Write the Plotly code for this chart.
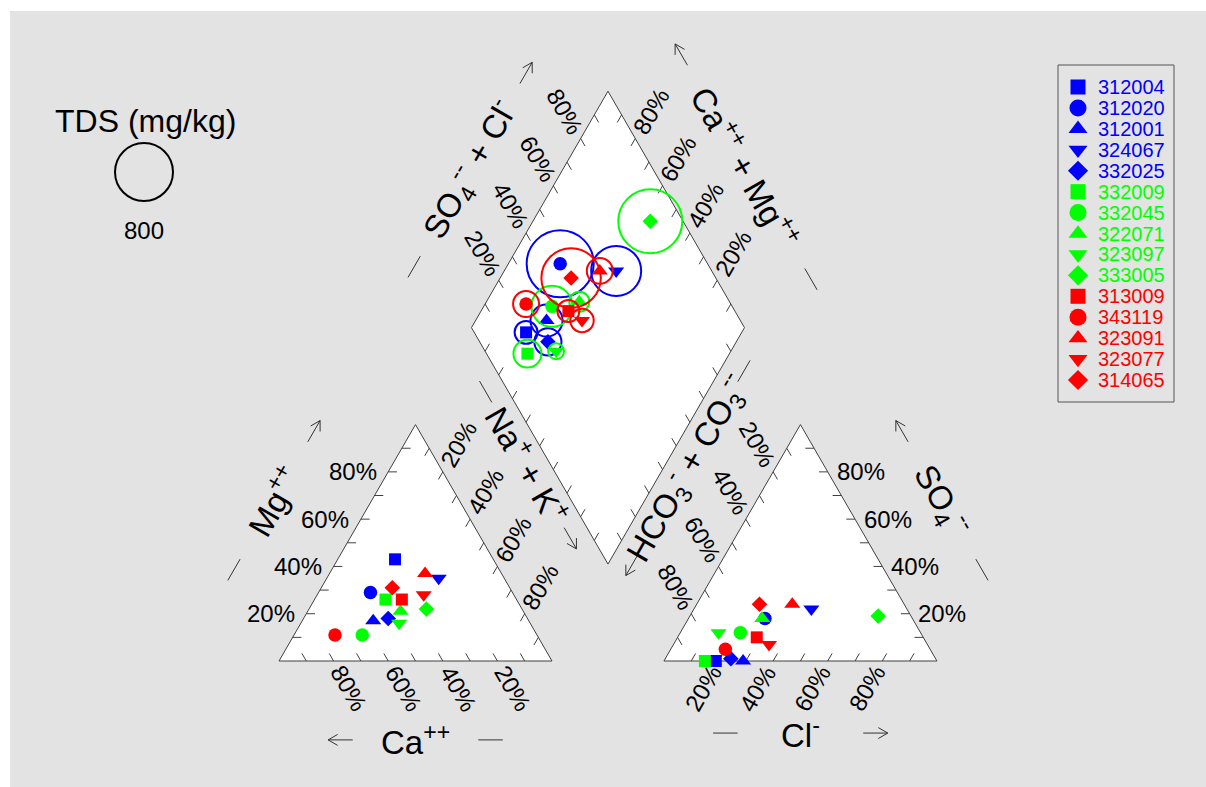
import numpy as np
import plotly.graph_objects as go

# ---------------------------------------------------------------- sample data
sample_ids = ["312004", "312020", "312001", "324067", "332025",
              "332009", "332045", "322071", "323097", "333005",
              "313009", "343119", "323091", "323077", "314065"]
sample_colors = ["#0000FF"] * 5 + ["#00FF00"] * 5 + ["#FF0000"] * 5
sample_symbols = ["square", "circle", "triangle-up", "triangle-down", "diamond"] * 3

# cations, percent of meq
ca = [36, 52, 57, 24, 51, 48, 64, 45, 48, 35, 42, 74, 28, 33, 43]
mg = [43, 29, 17, 35, 18, 26, 11, 21, 16, 22, 26, 11, 37, 28, 31]
na_k = [21, 19, 26, 41, 31, 26, 25, 34, 36, 43, 32, 15, 35, 39, 26]
# anions, percent of meq
cl = [19, 28, 29, 43, 24, 15, 22, 27, 14, 69, 29, 20, 35, 35, 23]
so4 = [0, 18, 0, 22, 1, 0, 12, 18, 12, 19, 10, 5, 24, 7, 24]
hco3 = [81, 54, 71, 35, 75, 85, 66, 55, 74, 12, 61, 75, 41, 58, 53]
# total dissolved solids, mg/kg
tds = [125, 1070, 245, 595, 175, 185, 400, 95, 60, 975, 115, 160, 160, 130, 840]
tds_ref = 800

pct_ticks = [20, 40, 60, 80]

# ---------------------------------------------------------------- geometry
FONT = "Liberation Sans, Arial, sans-serif"
W, H = 1206, 787
UNIT_PX = 273                # pixel length of one triangle side
ORIGIN_PX = (279, 661)       # pixel position of the 100 % Ca corner
S3 = np.sqrt(3) / 2
GAP = 0.41                   # spacing between the two triangles

A0, A1, A2 = np.array([0.0, 0.0]), np.array([1.0, 0.0]), np.array([0.5, S3])
B0, B1, B2 = np.array([1 + GAP, 0.0]), np.array([2 + GAP, 0.0]), np.array([1.5 + GAP, S3])
DB = np.array([1 + GAP / 2, GAP * S3])
DL = DB + np.array([-0.5, S3])
DT = DB + np.array([0.0, 2 * S3])
DR = DB + np.array([0.5, S3])

U60 = np.array([0.5, S3])     # up-right
D60 = np.array([0.5, -S3])    # down-right
UL60 = np.array([-0.5, S3])   # up-left


def px_to_units(px, py):
    return (px - ORIGIN_PX[0]) / UNIT_PX, (ORIGIN_PX[1] - py) / UNIT_PX


def cation_xy(c, m, n):
    t = c + m + n
    m, n = m / t, n / t
    return n + m / 2, m * S3


def anion_xy(c_l, s, h):
    t = c_l + s + h
    c_l, s = c_l / t, s / t
    return B0[0] + c_l + s / 2, s * S3


def diamond_xy(na_frac, sc_frac):
    p = DL + sc_frac * U60 + na_frac * D60
    return p[0], p[1]


def tds_diameter(v):
    return 58 * np.sqrt(v / tds_ref)


fig = go.Figure()

# ---------------------------------------------------------------- frames
for poly in ([A0, A1, A2], [B0, B1, B2], [DB, DR, DT, DL]):
    xs = [p[0] for p in poly] + [poly[0][0]]
    ys = [p[1] for p in poly] + [poly[0][1]]
    fig.add_trace(go.Scatter(x=xs, y=ys, mode="lines", fill="toself",
                             fillcolor="white", line=dict(color="#404040", width=1),
                             hoverinfo="skip", showlegend=False))

tick_x, tick_y = [], []


def add_ticks(p0, p1, inward, length=0.032):
    inward = np.array(inward) / np.linalg.norm(inward)
    for k in range(1, 10):
        p = p0 + (p1 - p0) * k / 10
        q = p + inward * length
        tick_x.extend([p[0], q[0], None])
        tick_y.extend([p[1], q[1], None])


add_ticks(A0, A1, (-0.5, S3))
add_ticks(A0, A2, (1, 0))
add_ticks(A1, A2, (-0.5, -S3))
add_ticks(B0, B1, (0.5, S3))
add_ticks(B1, B2, (-1, 0))
add_ticks(B0, B2, (0.5, -S3))
add_ticks(DL, DB, (0.5, S3))
add_ticks(DB, DR, (-0.5, S3))
add_ticks(DR, DT, (-0.5, -S3))
add_ticks(DT, DL, (0.5, -S3))
fig.add_trace(go.Scatter(x=tick_x, y=tick_y, mode="lines",
                         line=dict(color="#404040", width=1),
                         hoverinfo="skip", showlegend=False))

# ---------------------------------------------------------------- tick labels
annotations = []


def label(x, y, text, size=24, angle=0, xanchor="center", color="black"):
    annotations.append(dict(x=x, y=y, text=text, showarrow=False, textangle=angle,
                            xanchor=xanchor, yanchor="middle",
                            font=dict(family=FONT, size=size, color=color)))


OFF = 0.115
for v in pct_ticks:
    f = v / 100
    txt = f"{v}%"
    # Mg (left edge of cation triangle)
    p = A0 + f * U60
    label(p[0] - 0.035, p[1], txt, xanchor="right")
    # Ca (base of cation triangle)
    p = np.array([1 - f, 0.0]) + OFF * D60
    label(p[0], p[1], txt, angle=60)
    # Na + K (right edge of cation triangle)
    p = A1 + (1 - f) * UL60 + OFF * U60
    label(p[0], p[1], txt, angle=-60)
    # Cl (base of anion triangle)
    p = B0 + np.array([f, 0.0]) - OFF * U60
    label(p[0], p[1], txt, angle=-60)
    # SO4 (right edge of anion triangle)
    p = B1 + f * UL60
    label(p[0] + 0.025, p[1], txt, xanchor="left")
    # HCO3 + CO3 (left edge of anion triangle)
    p = B0 + (1 - f) * U60 + OFF * UL60
    label(p[0], p[1], txt, angle=60)
    # SO4 + Cl (upper-left edge of diamond)
    p = DL + f * U60 + OFF * UL60
    label(p[0], p[1], txt, angle=60)
    # Ca + Mg (upper-right edge of diamond, 100 % at the top corner)
    p = DR + f * UL60 + OFF * U60
    label(p[0], p[1], txt, angle=-60)

# ---------------------------------------------------------------- axis titles
arrow_x, arrow_y = [], []


def axis_title(center, direction, half, text, angle, seg=0.09, head=0.04):
    c = np.array(center, dtype=float)
    d = np.array(direction, dtype=float)
    d /= np.linalg.norm(d)
    label(c[0], c[1], text, size=33, angle=angle)
    # arrow pointing towards increasing values
    a0, a1 = c + d * (half - seg / 2), c + d * (half + seg / 2)
    arrow_x.extend([a0[0], a1[0], None])
    arrow_y.extend([a0[1], a1[1], None])
    for sgn in (1, -1):
        th = np.radians(150 * sgn)
        rot = np.array([d[0] * np.cos(th) - d[1] * np.sin(th),
                        d[0] * np.sin(th) + d[1] * np.cos(th)])
        w = a1 + rot * head
        arrow_x.extend([a1[0], w[0], None])
        arrow_y.extend([a1[1], w[1], None])
    # plain dash on the opposite side
    b0, b1 = c - d * (half - seg / 2), c - d * (half + seg / 2)
    arrow_x.extend([b0[0], b1[0], None])
    arrow_y.extend([b0[1], b1[1], None])


axis_title((A0 + A2) / 2 + 0.31 * np.array([-S3, 0.5]), U60, 0.293,
           "Mg<sup>++</sup>", -60)
axis_title((0.5, -0.289), (-1, 0), 0.275, "Ca<sup>++</sup>", 0)
axis_title((0.912, 0.718), D60, 0.31, "Na<sup>+</sup> + K<sup>+</sup>", 60)
axis_title((B1 + B2) / 2 + 0.31 * np.array([S3, 0.5]), UL60, 0.293,
           "SO<sub>4</sub><sup>--</sup>", 60)
axis_title((B0[0] + 0.5, -0.264), (1, 0), 0.275, "Cl<sup>-</sup>", 0)
axis_title((1.498, 0.707), (-0.5, -S3), 0.41,
           "HCO<sub>3</sub><sup>-</sup> + CO<sub>3</sub><sup>--</sup>", -60)
axis_title((0.700, 1.799), U60, 0.41,
           "SO<sub>4</sub><sup>--</sup> + Cl<sup>-</sup>", -60)
axis_title((1.711, 1.810), UL60, 0.475,
           "Ca<sup>++</sup> + Mg<sup>++</sup>", 60)

fig.add_trace(go.Scatter(x=arrow_x, y=arrow_y, mode="lines",
                         line=dict(color="#333333", width=1),
                         hoverinfo="skip", showlegend=False))

# ---------------------------------------------------------------- samples
plot_size = {"square": 12, "circle": 13.5, "triangle-up": 14,
             "triangle-down": 14, "diamond": 12}
for i, sid in enumerate(sample_ids):
    cx, cy = cation_xy(ca[i], mg[i], na_k[i])
    ax, ay = anion_xy(cl[i], so4[i], hco3[i])
    na_frac = na_k[i] / (ca[i] + mg[i] + na_k[i])
    sc_frac = (so4[i] + cl[i]) / (cl[i] + so4[i] + hco3[i])
    dx, dy = diamond_xy(na_frac, sc_frac)
    col = sample_colors[i]
    fig.add_trace(go.Scatter(
        x=[dx], y=[dy], mode="markers", hoverinfo="skip", showlegend=False,
        marker=dict(symbol="circle-open", size=tds_diameter(tds[i]), color=col,
                    opacity=1, line=dict(width=2, color=col))))
    fig.add_trace(go.Scatter(
        x=[cx, ax, dx], y=[cy, ay, dy], mode="markers", name=sid, showlegend=False,
        marker=dict(symbol=sample_symbols[i], size=plot_size[sample_symbols[i]],
                    color=col, opacity=1, line=dict(width=0))))

# ---------------------------------------------------------------- sample legend
legend_size = {"square": 15, "circle": 17, "triangle-up": 16.5,
               "triangle-down": 16.5, "diamond": 15.5}
leg_x, leg_y = [], []
for i, sid in enumerate(sample_ids):
    py = 87 + 20.93 * i
    mx, my = px_to_units(1078, py)
    tx, ty = px_to_units(1096, py)
    leg_x.append(mx)
    leg_y.append(my)
    label(tx, ty, sid, size=20, xanchor="left", color=sample_colors[i])
fig.add_trace(go.Scatter(
    x=leg_x, y=leg_y, mode="markers", hoverinfo="skip", showlegend=False,
    marker=dict(symbol=sample_symbols, color=sample_colors, opacity=1,
                size=[legend_size[s] for s in sample_symbols], line=dict(width=0))))

# ---------------------------------------------------------------- TDS key
kx, ky = px_to_units(144, 172)
fig.add_trace(go.Scatter(
    x=[kx], y=[ky], mode="markers", hoverinfo="skip", showlegend=False,
    marker=dict(symbol="circle-open", size=tds_diameter(tds_ref), color="black",
                opacity=1, line=dict(width=2, color="black"))))
tx, ty = px_to_units(145, 121)
label(tx, ty, "TDS (mg/kg)", size=32)
tx, ty = px_to_units(144, 230)
label(tx, ty, f"{tds_ref}", size=24)

# ---------------------------------------------------------------- layout
x0, y1 = px_to_units(0, 0)
x1, y0 = px_to_units(W, H)
fig.update_layout(
    width=W, height=H, autosize=False,
    margin=dict(l=0, r=0, t=0, b=0, pad=0),
    paper_bgcolor="white", plot_bgcolor="rgba(0,0,0,0)",
    xaxis=dict(range=[x0, x1], visible=False, fixedrange=True),
    yaxis=dict(range=[y0, y1], visible=False, fixedrange=True),
    showlegend=False,
    annotations=annotations,
    shapes=[
        dict(type="rect", xref="paper", yref="paper", x0=10 / W, x1=1, y0=0, y1=1 - 11 / H,
             fillcolor="#E3E3E3", line=dict(width=0), layer="below"),
        dict(type="rect", xref="paper", yref="paper",
             x0=1058 / W, x1=1174 / W, y0=1 - 402 / H, y1=1 - 65 / H,
             fillcolor="rgba(0,0,0,0)", line=dict(color="#555555", width=1)),
    ],
)

fig.write_html("out.html")
